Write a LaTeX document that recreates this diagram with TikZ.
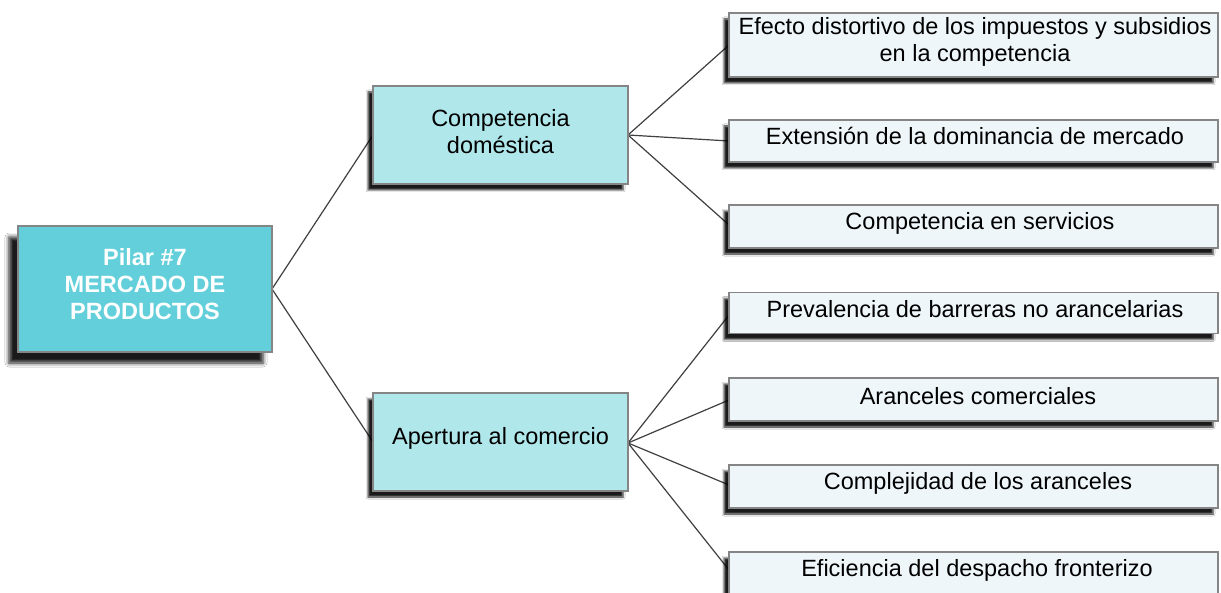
\documentclass[tikz,border=0pt]{standalone}
\usepackage{fontspec}
\setmainfont{Liberation Sans}
\usetikzlibrary{shadows.blur}
\definecolor{rootfill}{HTML}{62CFDA}
\definecolor{midfill}{HTML}{B0E7EB}
\definecolor{leaffill}{HTML}{EEF6FA}
\definecolor{boxline}{HTML}{858585}
\definecolor{conline}{HTML}{404040}
\begin{document}
\begin{tikzpicture}[x=1pt,y=-1pt,
  basebox/.style={draw=boxline, line width=1.2pt, inner sep=0pt,
    blur shadow={shadow xshift=-5pt, shadow yshift=-6pt, shadow blur radius=2pt, shadow opacity=90}},
  rootbox/.style={draw=boxline, line width=1.2pt, inner sep=0pt, fill=rootfill, minimum width=254pt, minimum height=126pt,
    blur shadow={shadow xshift=-9pt, shadow yshift=-11pt, shadow blur radius=4pt, shadow opacity=90}},
  midbox/.style={basebox, fill=midfill, minimum width=255pt, minimum height=98pt},
  leafbox/.style={basebox, fill=leaffill, minimum width=489pt},
  txt/.style={font=\fontsize{23.5}{27}\selectfont, align=center, text=black, inner sep=0pt},
  roottxt/.style={txt, font=\fontsize{23.5}{27}\selectfont\bfseries, text=white},
  con/.style={draw=conline, line width=1.2pt}]
\useasboundingbox (0,0) rectangle (1221,593);
\fill[white] (0,0) rectangle (1221,593);

% connectors (drawn first so boxes sit on top)
\coordinate (rootR) at (272,289);
\coordinate (c1L) at (373,135);
\coordinate (c1R) at (628,135);
\coordinate (c2L) at (373,442);
\coordinate (c2R) at (628,443);
\coordinate (e1) at (729,45);
\coordinate (e2) at (729,141);
\coordinate (e3) at (729,225);
\coordinate (e4) at (729,315);
\coordinate (e5) at (729,400);
\coordinate (e6) at (729,485);
\coordinate (e7) at (729,570);
\draw[con] (rootR) -- (c1L);
\draw[con] (rootR) -- (c2L);
\draw[con] (c1R) -- (e1);
\draw[con] (c1R) -- (e2);
\draw[con] (c1R) -- (e3);
\draw[con] (c2R) -- (e4);
\draw[con] (c2R) -- (e5);
\draw[con] (c2R) -- (e6);
\draw[con] (c2R) -- (e7);

% root
\node[rootbox] (root) at (145,289) {};
\node[roottxt] (roott) at (145,284) {Pilar \#7\\MERCADO DE\\PRODUCTOS};

% middle
\node[midbox] (comp) at (500.5,135) {};
\node[txt] (compt) at (500.5,131.5) {Competencia\\doméstica};
\node[midbox] (aper) at (500.5,442) {};
\node[txt] (apert) at (500.5,438.5) {Apertura al comercio};

% leaves
\node[leafbox, minimum height=64pt] (l1) at (973.5,45) {};
\node[txt] (l1t) at (975,42) {Efecto distortivo de los impuestos y subsidios\\en la competencia};
\node[leafbox, minimum height=42pt] (l2) at (973.5,141) {};
\node[txt] (l2t) at (975,136) {Extensión de la dominancia de mercado};
\node[leafbox, minimum height=43pt] (l3) at (973.5,226.5) {};
\node[txt] (l3t) at (980,223) {Competencia en servicios};
\node[leafbox, minimum height=41pt] (l4) at (973.5,313) {};
\node[txt] (l4t) at (975,309) {Prevalencia de barreras no arancelarias};
\node[leafbox, minimum height=43pt] (l5) at (973.5,399.5) {};
\node[txt] (l5t) at (978,396) {Aranceles comerciales};
\node[leafbox, minimum height=43pt] (l6) at (973.5,486.5) {};
\node[txt] (l6t) at (978,483) {Complejidad de los aranceles};
\node[leafbox, minimum height=43pt] (l7) at (973.5,573.5) {};
\node[txt] (l7t) at (977,570) {Eficiencia del despacho fronterizo};
\end{tikzpicture}
\end{document}
